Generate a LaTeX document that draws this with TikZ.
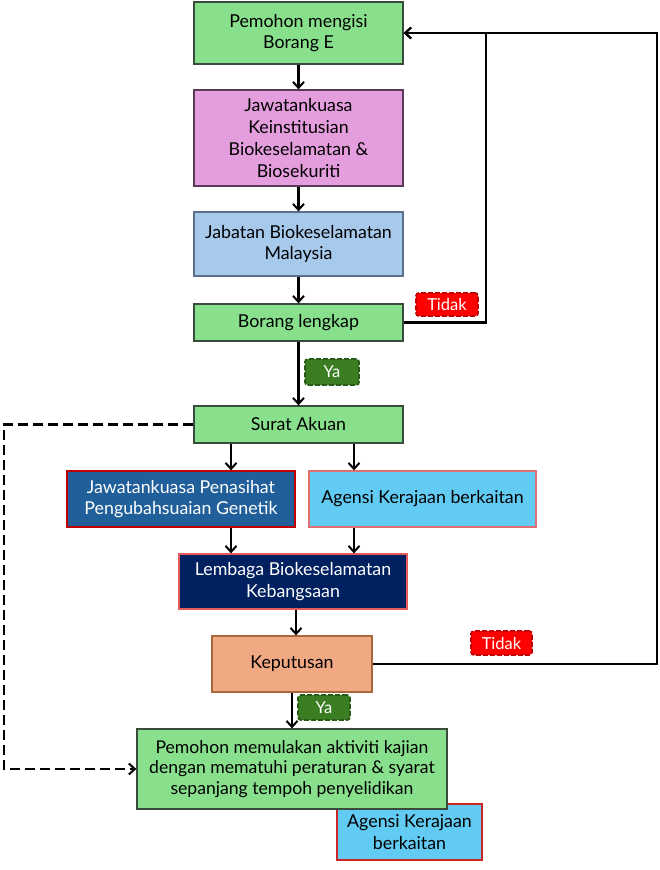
\documentclass[tikz,border=0pt]{standalone}
\usepackage{fontspec}
\setmainfont{Lato}
\usetikzlibrary{arrows.meta}
\definecolor{gfill}{HTML}{88E08C}
\definecolor{gdraw}{HTML}{3A4A3C}
\definecolor{pfill}{HTML}{E49EDD}
\definecolor{pdraw}{HTML}{5A3A58}
\definecolor{lbfill}{HTML}{A6C9EC}
\definecolor{lbdraw}{HTML}{5A6F8A}
\definecolor{mbfill}{HTML}{215F9A}
\definecolor{cyfill}{HTML}{61CBF3}
\definecolor{nvfill}{HTML}{002060}
\definecolor{rdraw}{HTML}{C00000}
\definecolor{lrdraw}{HTML}{E07070}
\definecolor{sfill}{HTML}{F1A983}
\definecolor{sdraw}{HTML}{A8683F}
\definecolor{yafill}{HTML}{3B7D23}
\definecolor{yadraw}{HTML}{2A5A18}
\definecolor{tdfill}{HTML}{FF0000}
\definecolor{tddraw}{HTML}{C00000}
\tikzset{
  box/.style={draw, line width=1.3pt, inner sep=0pt, align=center,
    font=\fontsize{17.8}{21.7}\selectfont},
  arr/.style={draw=black, line width=2.2pt, -{Straight Barb[length=6pt,width=11pt,line width=2pt]}},
  tag/.style={rounded corners=3pt, dashed, dash pattern=on 5pt off 2pt, line width=1.8pt,
    inner sep=0pt, text=white, font=\fontsize{16.5}{20}\selectfont},
}
\begin{document}
\begin{tikzpicture}[x=1pt,y=-1pt]
\useasboundingbox[fill=white] (0,0) rectangle (660,870);
% nodes
\node[box, fill=gfill, draw=gdraw, minimum width=209pt, minimum height=62pt] (b1) at (298.5,33) {Pemohon mengisi\\Borang E};
\node[box, fill=pfill, draw=pdraw, minimum width=209pt, minimum height=96pt] (b2) at (298.5,138) {Jawatankuasa\\Keinstitusian\\Biokeselamatan \&\\Biosekuriti};
\node[box, fill=lbfill, draw=lbdraw, minimum width=209pt, minimum height=64pt] (b3) at (298.5,244) {Jabatan Biokeselamatan\\Malaysia};
\node[box, fill=gfill, draw=gdraw, minimum width=209pt, minimum height=37pt] (b4) at (298.5,322.5) {Borang lengkap};
\node[box, fill=gfill, draw=gdraw, minimum width=209pt, minimum height=37pt] (b5) at (298.5,424.5) {Surat Akuan};
\node[box, fill=mbfill, draw=rdraw, text=white, minimum width=228pt, minimum height=56pt] (b6) at (181,499) {Jawatankuasa Penasihat\\Pengubahsuaian Genetik};
\node[box, fill=cyfill, draw=lrdraw, minimum width=227pt, minimum height=56pt] (b7) at (422.5,499) {Agensi Kerajaan berkaitan};
\node[box, fill=nvfill, draw=lrdraw!80!red, text=white, minimum width=228pt, minimum height=55pt] (b8) at (293,581.5) {Lembaga Biokeselamatan\\Kebangsaan};
\node[box, fill=sfill, draw=sdraw, minimum width=160pt, minimum height=56pt] (b9) at (292,664) {Keputusan};
\node[box, fill=cyfill, draw=rdraw!85!white, minimum width=145pt, minimum height=56pt] (b11) at (409.5,832) {Agensi Kerajaan\\berkaitan};
\node[box, fill=gfill, draw=gdraw, minimum width=310pt, minimum height=80pt, font=\fontsize{17.6}{20.8}\selectfont] (b10) at (292,769) {Pemohon memulakan aktiviti kajian\\dengan mematuhi peraturan \& syarat\\sepanjang tempoh penyelidikan};
% labels
\node[tag, fill=tdfill, draw=tddraw, minimum width=62pt, minimum height=23pt] (t1) at (447,304.5) {Tidak};
\node[tag, fill=yafill, draw=yadraw, minimum width=54pt, minimum height=26pt] (y1) at (332,372) {Ya};
\node[tag, fill=tdfill, draw=tddraw, minimum width=61pt, minimum height=24pt] (t2) at (501.5,643) {Tidak};
\node[tag, fill=yafill, draw=yadraw, minimum width=52pt, minimum height=25pt] (y2) at (324,707.5) {Ya};
% helper coordinates
\coordinate (cl) at (231,0);
\coordinate (cr) at (354,0);
\coordinate (r1) at (486,33);
\coordinate (r2) at (657,33);
\coordinate (l1) at (4,0);
% connectors
\draw[arr] (b1.south) -- (b2.north);
\draw[arr] (b2.south) -- (b3.north);
\draw[arr] (b3.south) -- (b4.north);
\draw[arr] (b4.south) -- (b5.north);
\draw[arr] (b5.south -| cl) -- (b6.north -| cl);
\draw[arr] (b5.south -| cr) -- (b7.north -| cr);
\draw[arr] (b6.south -| cl) -- (b8.north -| cl);
\draw[arr] (b7.south -| cr) -- (b8.north -| cr);
\draw[arr] ([xshift=3pt]b8.south) -- ([xshift=3pt]b8.south |- b9.north);
\draw[arr] (b9.south) -- (b10.north);
\draw[arr] (b4.east) -| (r1) -- (b1.east);
\draw[arr] (b9.east) -| (r2) -- (b1.east);
\draw[arr, dashed, dash pattern=on 10pt off 5pt] (b5.west) -- (b5.west -| l1) -- (l1 |- b10.west) -- (b10.west);
\end{tikzpicture}
\end{document}
